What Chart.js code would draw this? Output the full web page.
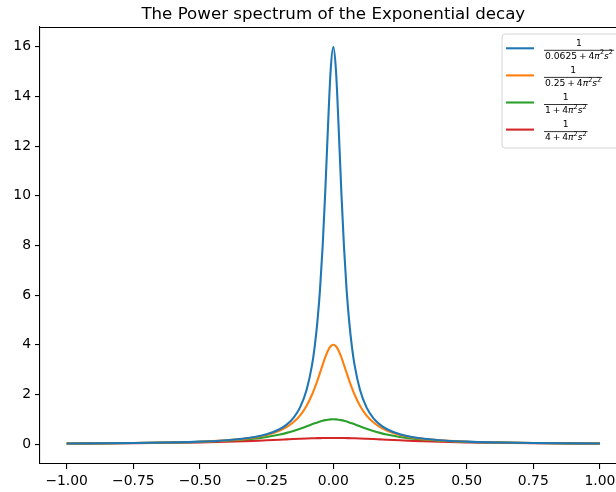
<!DOCTYPE html>
<html>
<head>
<meta charset="utf-8">
<script src="https://cdn.jsdelivr.net/npm/chart.js@4.4.1/dist/chart.umd.min.js"></script>
<style>
  html, body { margin: 0; padding: 0; background: #fff; overflow: hidden; }
  #wrap { width: 660px; height: 492px; }
</style>
</head>
<body>
<div id="wrap"><canvas id="spectrum" width="660" height="492"></canvas></div>
<script>
// frequency samples (s) and power values for each decay constant
const sValues = [-1, -0.75, -0.6, -0.5, -0.4, -0.3, -0.25, -0.2, -0.175, -0.15, -0.125, -0.1, -0.08, -0.07, -0.06, -0.05, -0.04, -0.03, -0.02, -0.01,
                 0, 0.01, 0.02, 0.03, 0.04, 0.05, 0.06, 0.07, 0.08, 0.1, 0.125, 0.15, 0.175, 0.2, 0.25, 0.3, 0.4, 0.5, 0.6, 0.75, 1];

const power0625 = [0.025, 0.045, 0.070, 0.101, 0.157, 0.277, 0.395, 0.609, 0.786, 1.05, 1.47, 2.19, 3.17, 3.91, 4.89, 6.20, 7.96, 10.20, 12.77, 15.05,
                   16, 15.05, 12.77, 10.20, 7.96, 6.20, 4.89, 3.91, 3.17, 2.19, 1.47, 1.05, 0.786, 0.609, 0.395, 0.277, 0.157, 0.101, 0.070, 0.045, 0.025];
const power025 = [0.025, 0.045, 0.069, 0.099, 0.152, 0.263, 0.368, 0.547, 0.685, 0.879, 1.15, 1.55, 1.99, 2.26, 2.55, 2.87, 3.19, 3.50, 3.76, 3.94,
                  4, 3.94, 3.76, 3.50, 3.19, 2.87, 2.55, 2.26, 1.99, 1.55, 1.15, 0.879, 0.685, 0.547, 0.368, 0.263, 0.152, 0.099, 0.069, 0.045, 0.025];
const power1 = [0.025, 0.043, 0.066, 0.092, 0.137, 0.220, 0.288, 0.388, 0.453, 0.530, 0.619, 0.717, 0.798, 0.838, 0.876, 0.910, 0.941, 0.966, 0.984, 0.996,
                1, 0.996, 0.984, 0.966, 0.941, 0.910, 0.876, 0.838, 0.798, 0.717, 0.619, 0.530, 0.453, 0.388, 0.288, 0.220, 0.137, 0.092, 0.066, 0.043, 0.025];
const power4 = [0.023, 0.038, 0.055, 0.072, 0.097, 0.132, 0.155, 0.179, 0.192, 0.205, 0.217, 0.228, 0.235, 0.238, 0.241, 0.244, 0.246, 0.248, 0.249, 0.250,
                0.250, 0.250, 0.249, 0.248, 0.246, 0.244, 0.241, 0.238, 0.235, 0.228, 0.217, 0.205, 0.192, 0.179, 0.155, 0.132, 0.097, 0.072, 0.055, 0.038, 0.023];

const decayConsts = ['0.0625', '0.25', '1', '4'];
const lineColors = ['#1f77b4', '#ff7f0e', '#2ca02c', '#d62728'];
const xTicks = [-1, -0.75, -0.5, -0.25, 0, 0.25, 0.5, 0.75, 1];
const yTicks = [0, 2, 4, 6, 8, 10, 12, 14, 16];
const chartTitle = 'The Power spectrum of the Exponential decay';

const FONT = '"DejaVu Sans", sans-serif';
Chart.defaults.font.family = FONT;
Chart.defaults.color = '#000';

const series = [power0625, power025, power1, power4];

// label pieces: "1 / (a + 4π²s²)", thin spaces round the plus like mathtext
function denomRuns(k) {
    return [
        { text: k + '\u2009+\u20094', italic: false },
        { text: 'π', italic: true },
        { text: '2', sup: true },
        { text: 's', italic: true },
        { text: '2', sup: true }
    ];
}

function runFont(run, size) {
    const sz = run.sup ? size * 0.7 : size;
    return (run.italic ? 'italic ' : '') + sz + 'px ' + FONT;
}

function drawRuns(ctx, runs, x, y, size) {
    let cx = x;
    runs.forEach(run => {
        ctx.font = runFont(run, size);
        const dy = run.sup ? -size * 0.38 : 0;
        ctx.fillText(run.text, cx, y + dy);
        cx += ctx.measureText(run.text).width;
    });
    return cx - x;
}

function runsWidth(ctx, runs, size) {
    let w = 0;
    runs.forEach(run => {
        ctx.font = runFont(run, size);
        w += ctx.measureText(run.text).width;
    });
    return w;
}

// title, top spine and the fraction legend
const decorations = {
    id: 'decorations',
    afterDraw(chart) {
        const ctx = chart.ctx;
        const area = chart.chartArea;
        ctx.save();

        // top spine
        ctx.strokeStyle = '#000';
        ctx.lineWidth = 1.1;
        ctx.beginPath();
        ctx.moveTo(area.left, area.top + 0.5);
        ctx.lineTo(area.right, area.top + 0.5);
        ctx.stroke();

        // title
        ctx.fillStyle = '#000';
        ctx.font = '16.67px ' + FONT;
        ctx.textAlign = 'center';
        ctx.textBaseline = 'alphabetic';
        ctx.fillText(chartTitle, (area.left + area.right) / 2, 19.3);

        // legend box
        ctx.beginPath();
        ctx.roundRect(502, 34, 118, 114, 3);
        ctx.fillStyle = 'rgba(255,255,255,0.8)';
        ctx.fill();
        ctx.strokeStyle = '#d4d4d4';
        ctx.lineWidth = 1;
        ctx.stroke();

        const size = 9.2;
        ctx.textAlign = 'left';
        ctx.textBaseline = 'middle';
        decayConsts.forEach((k, i) => {
            const barY = 50.3 + i * 27.1;
            ctx.strokeStyle = lineColors[i];
            ctx.lineWidth = 2.1;
            ctx.beginPath();
            ctx.moveTo(506, barY - 2);
            ctx.lineTo(534, barY - 2);
            ctx.stroke();

            const runs = denomRuns(k);
            const w = runsWidth(ctx, runs, size);
            const x0 = 545;
            ctx.fillStyle = '#000';
            drawRuns(ctx, runs, x0, barY + 6, size);

            ctx.strokeStyle = '#000';
            ctx.lineWidth = 0.8;
            ctx.beginPath();
            ctx.moveTo(x0 - 1, barY);
            ctx.lineTo(x0 + w + 1, barY);
            ctx.stroke();

            ctx.font = size + 'px ' + FONT;
            ctx.textAlign = 'center';
            ctx.fillText('1', x0 + w / 2, barY - 7);
            ctx.textAlign = 'left';
        });

        ctx.restore();
    }
};

const datasets = series.map((vals, i) => ({
    label: '1/(' + decayConsts[i] + ' + 4π²s²)',
    data: sValues.map((s, j) => ({ x: s, y: vals[j] })),
    borderColor: lineColors[i],
    backgroundColor: lineColors[i],
    borderWidth: 2.1,
    pointRadius: 0,
    cubicInterpolationMode: 'monotone',
    fill: false
}));

const ctx = document.getElementById('spectrum').getContext('2d');
new Chart(ctx, {
    type: 'line',
    data: { datasets: datasets },
    options: {
        responsive: false,
        animation: false,
        devicePixelRatio: 1,
        layout: { padding: { top: 27, right: 33.4, left: 0, bottom: 0 } },
        plugins: {
            legend: { display: false },
            title: { display: false },
            tooltip: { enabled: false }
        },
        scales: {
            x: {
                type: 'linear',
                min: -1.1,
                max: 1.1,
                afterBuildTicks: scale => { scale.ticks = xTicks.map(v => ({ value: v })); },
                afterFit: scale => { scale.height = 28; },
                grid: { drawOnChartArea: false, drawTicks: true, tickLength: 5, color: '#000', lineWidth: 1.1 },
                border: { display: true, color: '#000', width: 1.1 },
                ticks: {
                    padding: 4,
                    maxRotation: 0,
                    autoSkip: false,
                    font: { size: 13.9 },
                    callback: v => v.toFixed(2).replace('-', '\u2212')
                }
            },
            y: {
                type: 'linear',
                min: -0.8,
                max: 16.8,
                afterBuildTicks: scale => { scale.ticks = yTicks.map(v => ({ value: v })); },
                afterFit: scale => { scale.width = 40; },
                grid: { drawOnChartArea: false, drawTicks: true, tickLength: 5, color: '#000', lineWidth: 1.1 },
                border: { display: true, color: '#000', width: 1.1 },
                ticks: {
                    padding: 4,
                    autoSkip: false,
                    font: { size: 13.9 },
                    callback: v => String(v)
                }
            }
        }
    },
    plugins: [decorations]
});
</script>
</body>
</html>
